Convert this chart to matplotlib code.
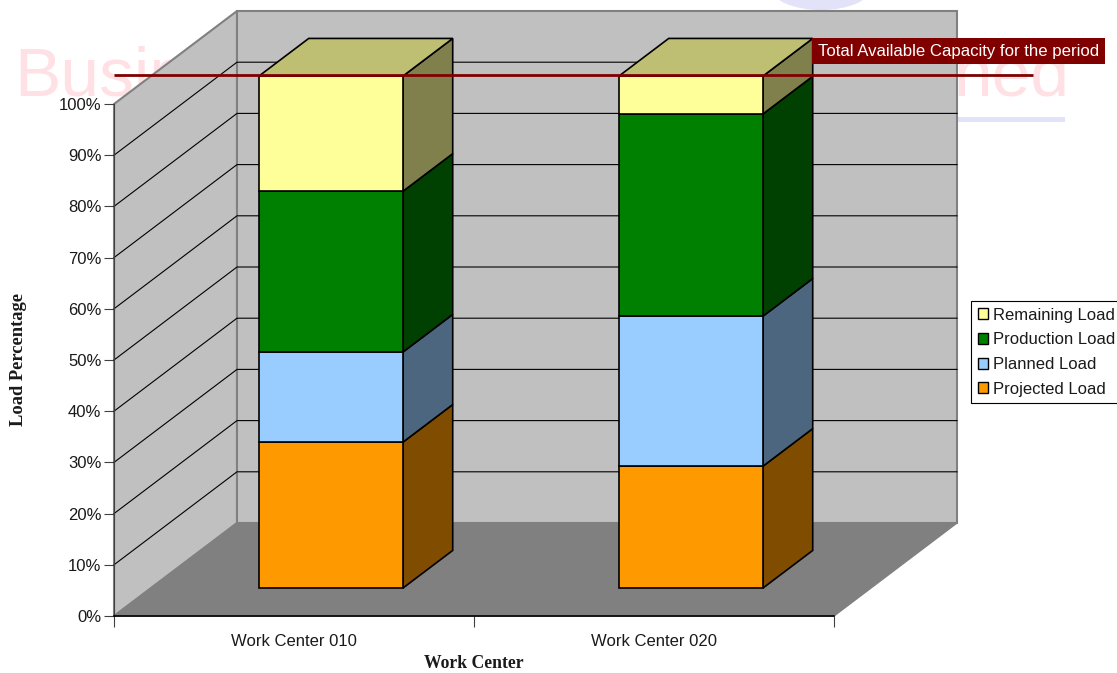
import matplotlib
matplotlib.use('Agg')
import matplotlib.pyplot as plt
from matplotlib.patches import Polygon, Patch, Ellipse, Rectangle

# data
categories = ['Work Center 010', 'Work Center 020']
series_names = ['Projected Load', 'Planned Load', 'Production Load', 'Remaining Load']
projected = [28.5, 23.8]
planned = [17.6, 29.3]
production = [31.4, 39.5]
remaining = [22.5, 7.4]
capacity = 100

front_colors = ['#FF9900', '#99CCFF', '#008000', '#FFFF99']
side_colors = ['#804D00', '#4D6680', '#004000', '#80804D']
top_color = '#BFBF73'

W, H = 1117, 673
DX = 123 / 360.0  # 3d depth in x units
DY = 93 / 5.12    # 3d depth in percent units
BAR_W = 0.4
D0, D1 = 0.30, 0.705


def pr(x, y, d):
    return (x + d * DX, y + d * DY)


def poly(pts, fc, ec, lw, z):
    ax.add_patch(Polygon(pts, closed=True, facecolor=fc, edgecolor=ec, linewidth=lw,
                         zorder=z, clip_on=False, joinstyle='miter'))


plt.rcParams['font.family'] = ['Liberation Sans', 'DejaVu Sans']
fig = plt.figure(figsize=(W / 100, H / 100), dpi=100)

# faint watermark behind the chart
fig.text(14 / W, 1 - 95 / H, 'Business', fontsize=50, color='#FFE0E4', zorder=0, va='baseline')
fig.text(1069 / W, 1 - 95 / H, 'ned', fontsize=50, color='#FFE0E4', zorder=0, ha='right', va='baseline')
fig.add_artist(Rectangle((958 / W, 1 - 122 / H), 107 / W, 5 / H, transform=fig.transFigure,
                         facecolor='#E2E2F8', edgecolor='none', zorder=0))
fig.add_artist(Ellipse((821 / W, 1 + 12 / H), 100 / W, 44 / H, transform=fig.transFigure,
                       facecolor='#E2E2F8', edgecolor='none', zorder=0))

ax = fig.add_axes([114 / W, 1 - 616 / H, 720 / W, 512 / H], zorder=2)
ax.patch.set_visible(False)
ax.set_xlim(0, 2)
ax.set_ylim(0, 100)

# walls and floor
poly([pr(0, 0, 0), pr(0, 100, 0), pr(0, 100, 1), pr(0, 0, 1)], '#C0C0C0', '#808080', 1.5, 1)
poly([pr(0, 0, 1), pr(0, 100, 1), pr(2, 100, 1), pr(2, 0, 1)], '#C0C0C0', '#808080', 1.5, 1)
poly([pr(0, 0, 0), pr(2, 0, 0), pr(2, 0, 1), pr(0, 0, 1)], '#808080', '#808080', 1, 1.5)

# gridlines on left and back walls
for v in range(10, 100, 10):
    p0, p1, p2 = pr(0, v, 0), pr(0, v, 1), pr(2, v, 1)
    ax.plot([p0[0], p1[0], p2[0]], [p0[1], p1[1], p2[1]], color='black', lw=0.8, zorder=2, clip_on=False)

# bars
stack = [projected, planned, production, remaining]
for i in range(len(categories)):
    x0 = i + 0.5 - BAR_W / 2
    x1 = x0 + BAR_W
    base = 0
    for s, vals in enumerate(stack):
        top = base + vals[i]
        poly([pr(x1, base, D0), pr(x1, top, D0), pr(x1, top, D1), pr(x1, base, D1)],
             side_colors[s], 'black', 1.2, 3 + s * 0.1)
        poly([pr(x0, base, D0), pr(x1, base, D0), pr(x1, top, D0), pr(x0, top, D0)],
             front_colors[s], 'black', 1.2, 3.05 + s * 0.1)
        base = top
    poly([pr(x0, base, D0), pr(x1, base, D0), pr(x1, base, D1), pr(x0, base, D1)],
         top_color, 'black', 1.2, 4)

# capacity line
cap = pr(0, capacity, D0)[1] + 0.15
ax.plot([0, 2 + 199 / 360.0], [cap, cap], color='#800000', lw=2, zorder=5, clip_on=False,
        solid_capstyle='butt')
ax.text(2 - 16 / 360.0, cap + 24 / 5.12, 'Total Available Capacity for the period', color='white',
        fontsize=12.1, ha='left', va='center', zorder=6, clip_on=False,
        bbox=dict(facecolor='#800000', edgecolor='none', boxstyle='square,pad=0.33'))

# axes
for sp in ['top', 'right']:
    ax.spines[sp].set_visible(False)
ax.spines['left'].set_color('#404040')
ax.spines['bottom'].set_color('black')
ax.spines['bottom'].set_linewidth(1.2)
for sp in ax.spines.values():
    sp.set_zorder(2.5)
ax.set_yticks(range(0, 101, 10))
ax.set_yticklabels(['%d%%' % v for v in range(0, 101, 10)], fontsize=12, color='#1a1a1a')
ax.set_xticks([0, 1, 2])
ax.set_xticklabels(['', '', ''])
ax.set_xticks([0.5, 1.5], minor=True)
ax.set_xticklabels(categories, minor=True, fontsize=12, color='#1a1a1a')
ax.tick_params(axis='x', which='major', length=8, width=0.8, color='#404040')
ax.tick_params(axis='x', which='minor', length=0, pad=13)
ax.tick_params(axis='y', length=7, width=0.8, color='#404040', pad=2)

serif = ['Liberation Serif', 'DejaVu Serif']
fig.text(474 / W, 1 - 664 / H, 'Work Center', fontsize=12.7, family=serif, fontweight='bold',
         ha='center', va='center', color='#1a1a1a')
fig.text(19 / W, 1 - 360 / H, 'Load Percentage', fontsize=13.3, family=serif, fontweight='bold',
         rotation=90, ha='center', va='center', color='#1a1a1a')

# legend, top entry first
handles = [Patch(facecolor=front_colors[s], edgecolor='black', linewidth=1) for s in [3, 2, 1, 0]]
leg = fig.legend(handles, [series_names[s] for s in [3, 2, 1, 0]], loc='upper left',
                 bbox_to_anchor=(971 / W, 1 - 301 / H), bbox_transform=fig.transFigure,
                 fontsize=12, frameon=True, fancybox=False, edgecolor='black', framealpha=1,
                 handlelength=0.62, handleheight=0.62, handletextpad=0.3, labelspacing=0.58,
                 borderpad=0.4, borderaxespad=0, labelcolor='#1a1a1a')
leg.get_frame().set_linewidth(0.8)
leg.set_zorder(7)

fig.savefig('out.png', dpi=100)
